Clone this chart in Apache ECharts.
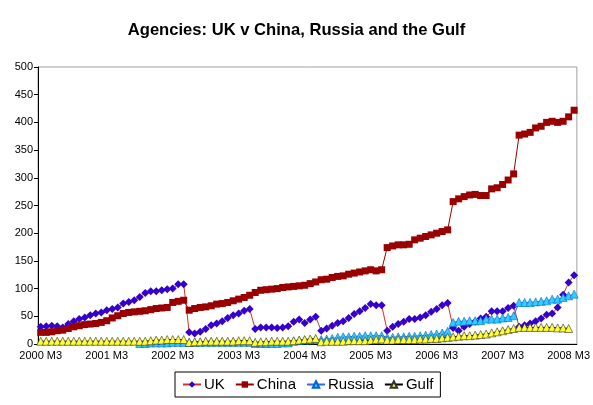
<!DOCTYPE html>
<html>
<head>
<meta charset="utf-8">
<script src="https://cdn.jsdelivr.net/npm/echarts@6/dist/echarts.min.js"></script>
<style>
  html, body { margin: 0; padding: 0; background: #fff; }
  #chart { width: 593px; height: 405px; }
</style>
</head>
<body>
<div id="chart"></div>
<script>
  // monthly, 2000 M3 .. 2008 M4
  var startYear = 2000
  var startMonth = 3
  var monthCount = 98

  var uk = [
    31, 32, 33, 32, 30, 36, 41, 45, 48, 52,
    55, 57, 61, 63, 66, 73, 76, 79, 85, 92,
    95, 95, 97, 99, 100, 108, 108,
    21, 19, 22, 27, 34, 37, 41, 47, 52, 55, 60, 63,
    27, 30, 30, 30, 29, 30, 32, 40, 44, 38, 44, 49,
    24, 28, 33, 38, 41, 47, 54, 59, 65, 72, 70, 70,
    24, 31, 36, 40, 45, 45, 48, 52, 58, 63, 70, 74,
    29, 24, 31, 36, 40, 46, 49, 59, 59, 59, 65, 69,
    31, 34, 37, 41, 46, 53, 55, 66, 89, 111, 124
  ]
  var china = [
    21, 21, 22, 24, 25, 28, 31, 33, 35, 36,
    37, 39, 42, 47, 51, 55, 57, 58, 59, 60,
    62, 64, 65, 66, 75, 77, 79,
    61, 64, 66, 67, 69, 72, 73, 75, 78, 81, 84, 88,
    93, 97, 98, 99, 100, 102, 103, 104, 105, 106, 109, 112,
    116, 117, 120, 122, 123, 126, 128, 130, 132, 134, 132, 134,
    174, 177, 179, 179, 180, 188, 191, 194, 197, 200, 203, 206,
    257, 262, 266, 269, 270, 268, 268, 280, 282, 288, 296, 307,
    377, 379, 382, 390, 393, 400, 402, 400, 402, 410, 422
  ]
  var russia = [
    null, null, null, null, null, null, null, null, null, null,
    null, null, null, null, null, null, null, null,
    1, 1, 2, 2, 2, 2, 3, 3, 3,
    3, 3, 3, 3, 3, 3, 3, 3, 3, 3, 3, 3,
    1, 1, 1, 1, 1, 2, 2, 5, 6, 7, 7, 8,
    8, 9, 10, 12, 13, 13, 14, 14, 15, 15, 15, 15,
    12, 12, 13, 13, 14, 14, 15, 16, 17, 18, 20, 23,
    39, 41, 41, 42, 42, 42, 45, 45, 45, 47, 48, 51,
    75, 75, 75, 76, 77, 78, 81, 81, 84, 87, 90
  ]
  var gulf = [
    5, 5, 5, 5, 5, 5, 5, 5, 5, 5,
    5, 5, 5, 5, 5, 5, 5, 5, 5, 5,
    6, 7, 7, 8, 8, 8, 8,
    3, 4, 4, 5, 5, 5, 5, 5, 5, 6, 6, 6,
    3, 4, 4, 5, 5, 5, 5, 6, 7, 8, 9, 10,
    4, 5, 5, 5, 5, 6, 6, 6, 6, 7, 8, 9,
    7, 7, 8, 8, 8, 8, 9, 9, 10, 10, 11, 12,
    13, 14, 15, 15, 16, 17, 18, 20, 22, 24, 26, 28,
    30, 30, 30, 30, 30, 30, 30, 29, 29, 28, null
  ]

  var months = []
  for (var i = 0; i < monthCount; i++) {
    var m = startMonth - 1 + i
    months.push((startYear + Math.floor(m / 12)) + ' M' + (m % 12 + 1))
  }

  var chart = echarts.init(document.getElementById('chart'), null, {renderer: 'canvas'})
  chart.setOption({
    animation: false,
    backgroundColor: '#fff',
    textStyle: {
      fontFamily: 'Liberation Sans, Arial, sans-serif'
    },
    title: {
      text: 'Agencies: UK v China, Russia and the Gulf',
      left: 'center',
      top: 17,
      textStyle: {
        fontSize: 16.6,
        fontWeight: 'bold',
        color: '#000'
      }
    },
    legend: {
      left: 175,
      top: 372,
      borderColor: '#000',
      borderWidth: 1,
      padding: [5, 7],
      itemGap: 10,
      itemWidth: 18,
      itemHeight: 8,
      textStyle: {
        fontSize: 15,
        color: '#000',
        padding: [0, 0, 0, -2]
      },
      data: ['UK', 'China', 'Russia', 'Gulf']
    },
    grid: {
      left: 38,
      right: 10,
      top: 67,
      bottom: 61,
      show: true,
      borderColor: '#a0a0a0',
      borderWidth: 1
    },
    xAxis: {
      type: 'category',
      data: months,
      boundaryGap: true,
      axisLine: {lineStyle: {color: '#000'}},
      axisTick: {
        alignWithLabel: true,
        interval: 11,
        length: 4,
        lineStyle: {color: '#000'}
      },
      axisLabel: {
        interval: 11,
        fontSize: 11,
        color: '#000',
        margin: 6
      },
      splitLine: {show: false}
    },
    yAxis: {
      type: 'value',
      min: 0,
      max: 500,
      interval: 50,
      axisLine: {show: true, lineStyle: {color: '#000'}},
      axisTick: {show: true, length: 4, lineStyle: {color: '#000'}},
      axisLabel: {fontSize: 11, color: '#000', margin: 5},
      splitLine: {show: false}
    },
    series: [
      {
        name: 'UK',
        type: 'line',
        data: uk,
        showAllSymbol: true,
        symbol: 'diamond',
        symbolSize: 8,
        itemStyle: {color: '#3300CC'},
        lineStyle: {color: '#CC3333', width: 1}
      },
      {
        name: 'China',
        type: 'line',
        data: china,
        showAllSymbol: true,
        symbol: 'rect',
        symbolSize: 7,
        itemStyle: {color: '#990000'},
        lineStyle: {color: '#990000', width: 1}
      },
      {
        name: 'Russia',
        type: 'line',
        data: russia,
        showAllSymbol: true,
        symbol: 'triangle',
        symbolSize: 8,
        itemStyle: {color: '#33CCFF', borderColor: '#0066CC', borderWidth: 0.6},
        lineStyle: {color: '#3366FF', width: 1}
      },
      {
        name: 'Gulf',
        type: 'line',
        data: gulf,
        showAllSymbol: true,
        symbol: 'triangle',
        symbolSize: 8,
        itemStyle: {color: '#FFFF33', borderColor: '#333', borderWidth: 0.6},
        lineStyle: {color: '#000', width: 1}
      }
    ]
  })
</script>
</body>
</html>
